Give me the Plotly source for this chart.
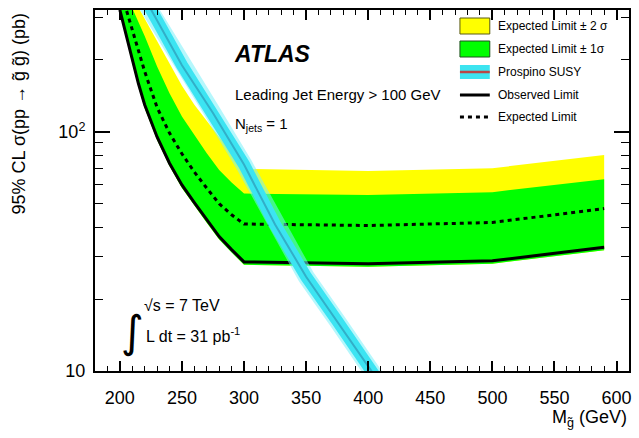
import plotly.graph_objects as go

# ---------------- data ----------------
mass = [200, 205, 210, 215, 220, 230, 240, 250, 260, 270, 280, 290, 300, 400, 500, 590]
observed = [324, 255, 200, 159, 130, 95.3, 74, 60, 50.6, 42.9, 36.5, 32.2, 28.6, 28.1, 28.9, 32.9]
expected = [400, 327, 268, 219, 179, 126.5, 98.9, 81, 68, 58.2, 50.1, 45, 41.2, 40.6, 41.8, 47.8]
plus1 = [430, 377, 330, 288, 252, 188, 145, 116, 96.6, 81.5, 69.3, 61.4, 55.2, 54.5, 56, 63.4]
plus2 = [458, 411, 369, 331, 296, 239, 191, 156, 130, 110.7, 95.3, 82.4, 70, 68.7, 70.5, 80.1]
band_low = [315, 247, 194, 154, 126, 92.5, 72, 58.3, 49.2, 41.7, 35.5, 31.3, 27.8, 27.3, 28.1, 32.0]

susy_mass = [200, 225, 250, 275, 300, 325, 350, 375, 400, 410]
susy_xsec = [520, 326, 190, 120, 73, 41, 24.8, 16.2, 10.5, 8.8]

y_tickvals = [10, 100]
y_ticktext = ["10", "10<sup>2</sup>"]
y_minor = [20, 30, 40, 50, 60, 70, 80, 90, 200, 300]

legend_labels = ["Expected Limit \u00b1 2 \u03c3", "Expected Limit \u00b1 1\u03c3",
                 "Prospino SUSY", "Observed Limit", "Expected Limit"]

# ---------------- layout geometry ----------------
W, H = 639, 438
L, R, T, B = 95, 7, 10, 67
PW, PH = W - L - R, H - T - B
FONT = "Liberation Sans, Arial, Helvetica, sans-serif"

def px(x):
    return (x - L) / PW

def py(y):
    return (H - B - y) / PH

YELLOW = "rgb(255,255,0)"
GREEN = "rgb(0,255,0)"

fig = go.Figure()

# +-2 sigma band
fig.add_trace(go.Scatter(x=mass + mass[::-1], y=plus2 + band_low[::-1], fill="toself",
                         fillcolor=YELLOW, line=dict(width=0), mode="lines",
                         hoverinfo="skip", showlegend=False))
# +-1 sigma band
fig.add_trace(go.Scatter(x=mass + mass[::-1], y=plus1 + band_low[::-1], fill="toself",
                         fillcolor=GREEN, line=dict(width=0), mode="lines",
                         hoverinfo="skip", showlegend=False))
# expected
fig.add_trace(go.Scatter(x=mass, y=expected, mode="lines",
                         line=dict(color="black", width=3, dash="4px,4px"), showlegend=False))
# observed
fig.add_trace(go.Scatter(x=mass, y=observed, mode="lines",
                         line=dict(color="black", width=3), showlegend=False))
# SUSY theory band
fig.add_trace(go.Scatter(x=susy_mass, y=susy_xsec, mode="lines",
                         line=dict(color="rgba(120,240,250,0.55)", width=17), showlegend=False))
fig.add_trace(go.Scatter(x=susy_mass, y=susy_xsec, mode="lines",
                         line=dict(color="rgb(60,228,242)", width=12), showlegend=False))
fig.add_trace(go.Scatter(x=susy_mass, y=susy_xsec, mode="lines",
                         line=dict(color="rgb(50,175,200)", width=2), showlegend=False))

shapes = []
annotations = []

# manual legend
lx0, lx1, tx = 462, 492, 498
rows = [26, 49, 72, 95, 117]
shapes.append(dict(type="rect", xref="paper", yref="paper", x0=px(lx0), x1=px(lx1),
                   y0=py(34), y1=py(18), fillcolor=YELLOW, line=dict(color="rgb(90,90,20)", width=1)))
shapes.append(dict(type="rect", xref="paper", yref="paper", x0=px(lx0), x1=px(lx1),
                   y0=py(57), y1=py(41), fillcolor=GREEN, line=dict(color="rgb(30,80,30)", width=1)))
shapes.append(dict(type="rect", xref="paper", yref="paper", x0=px(lx0), x1=px(lx1),
                   y0=py(79), y1=py(65), fillcolor="rgb(60,228,240)", line=dict(width=0)))
shapes.append(dict(type="line", xref="paper", yref="paper", x0=px(lx0), x1=px(lx1),
                   y0=py(72), y1=py(72), line=dict(color="rgb(185,70,70)", width=2.5)))
shapes.append(dict(type="line", xref="paper", yref="paper", x0=px(lx0), x1=px(lx1),
                   y0=py(95), y1=py(95), line=dict(color="black", width=3)))
shapes.append(dict(type="line", xref="paper", yref="paper", x0=px(lx0), x1=px(lx1),
                   y0=py(117), y1=py(117), line=dict(color="black", width=3, dash="4px,4px")))
for lab, ry in zip(legend_labels, rows):
    annotations.append(dict(x=px(tx), y=py(ry), xref="paper", yref="paper", text=lab,
                            showarrow=False, xanchor="left", yanchor="middle",
                            font=dict(family=FONT, size=12, color="black")))

# texts in the plot
annotations.append(dict(x=px(233), y=py(54), xref="paper", yref="paper", text="<b><i>ATLAS</i></b>",
                        showarrow=False, xanchor="left", yanchor="middle",
                        font=dict(family=FONT, size=23, color="black")))
annotations.append(dict(x=px(234), y=py(95), xref="paper", yref="paper",
                        text="Leading Jet Energy > 100 GeV", showarrow=False,
                        xanchor="left", yanchor="middle", font=dict(family=FONT, size=15, color="black")))
annotations.append(dict(x=px(234), y=py(125), xref="paper", yref="paper",
                        text="N<sub>jets</sub> = 1", showarrow=False,
                        xanchor="left", yanchor="middle", font=dict(family=FONT, size=15, color="black")))
annotations.append(dict(x=px(133), y=py(331), xref="paper", yref="paper", text="\u222b",
                        showarrow=False, xanchor="center", yanchor="middle",
                        font=dict(family="DejaVu Sans", size=44, color="black")))
annotations.append(dict(x=px(142), y=py(305), xref="paper", yref="paper", text="\u221as = 7 TeV",
                        showarrow=False, xanchor="left", yanchor="middle",
                        font=dict(family=FONT, size=16, color="black")))
annotations.append(dict(x=px(144), y=py(335), xref="paper", yref="paper",
                        text="L dt = 31 pb<sup>-1</sup>", showarrow=False,
                        xanchor="left", yanchor="middle", font=dict(family=FONT, size=16, color="black")))

# axis titles
annotations.append(dict(x=1.0, y=py(418), xref="paper", yref="paper",
                        text="M<sub>g\u0303</sub> (GeV)", showarrow=False,
                        xanchor="right", yanchor="middle", font=dict(family=FONT, size=18, color="black")))
annotations.append(dict(x=px(19), y=1.0, xref="paper", yref="paper",
                        text="95% CL \u03c3(pp \u2192 g\u0303 g\u0303) (pb)", showarrow=False, textangle=-90,
                        xanchor="center", yanchor="top", font=dict(family=FONT, size=18, color="black")))

fig.update_layout(
    width=W, height=H,
    margin=dict(l=L, r=R, t=T, b=B, pad=0),
    paper_bgcolor="white", plot_bgcolor="white",
    showlegend=False,
    shapes=shapes, annotations=annotations,
    font=dict(family=FONT, size=18, color="black"),
)
fig.update_xaxes(
    range=[180, 610], tick0=200, dtick=50, ticks="inside", ticklen=10, tickwidth=1.5,
    tickcolor="black", showline=True, linecolor="black", linewidth=2, mirror="ticks",
    showgrid=False, zeroline=False, ticklabelstandoff=9,
    tickfont=dict(family=FONT, size=18, color="black"),
    minor=dict(dtick=10, ticks="inside", ticklen=5, tickwidth=1, tickcolor="black", showgrid=False),
)
fig.update_yaxes(
    type="log", range=[1, 2.51], tickmode="array", tickvals=y_tickvals, ticktext=y_ticktext,
    ticks="inside", ticklen=15, tickwidth=1.5, tickcolor="black",
    showline=True, linecolor="black", linewidth=2, mirror="ticks",
    showgrid=False, zeroline=False, ticklabelstandoff=4,
    tickfont=dict(family=FONT, size=18, color="black"),
    minor=dict(tickmode="array", tickvals=y_minor, ticks="inside", ticklen=8, tickwidth=1,
               tickcolor="black", showgrid=False),
)

fig.write_html("out.html", config={"displayModeBar": False},
               post_script="document.body.style.margin='0';document.body.style.padding='0';"
                           "document.documentElement.style.overflow='hidden';")
